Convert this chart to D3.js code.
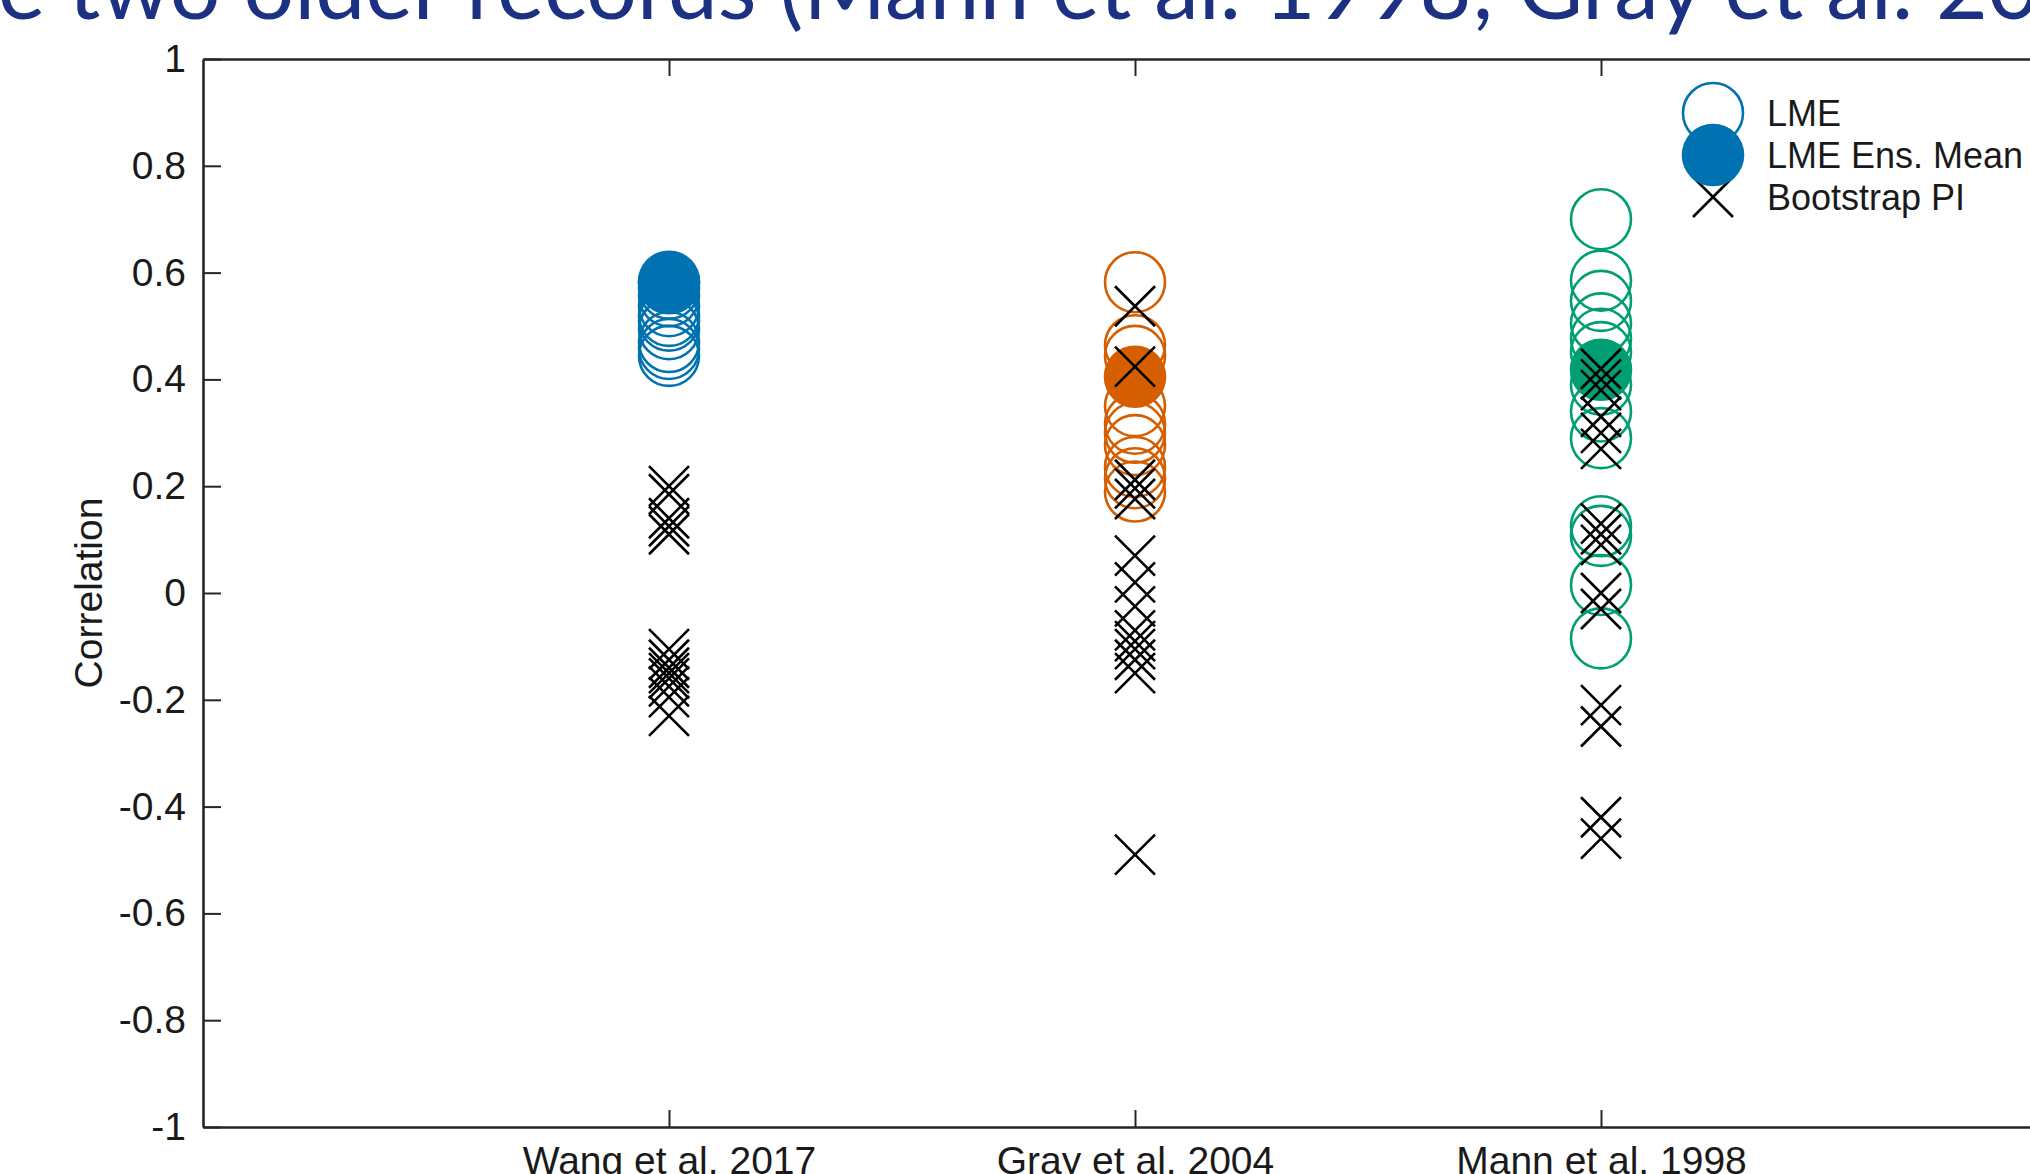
<!DOCTYPE html>
<html>
<head>
<meta charset="utf-8">
<script src="https://cdn.jsdelivr.net/npm/d3@7"></script>
<style>
  html, body { margin: 0; padding: 0; background: #fff; overflow: hidden; }
  svg { display: block; }
</style>
</head>
<body>
<svg id="chart" width="2030" height="1174"></svg>
<script>
// Proxy records compared against the LME ensemble
const categories = ["Wang et al. 2017", "Gray et al. 2004", "Mann et al. 1998"];
const seriesColors = ["#0072B2", "#D55E00", "#009E73"];

// Correlation of each LME member with the record
const lmeWang = [0.58, 0.57, 0.556, 0.537, 0.519, 0.51, 0.494, 0.47, 0.457, 0.444];
const lmeGray = [0.582, 0.464, 0.444, 0.35, 0.317, 0.30, 0.277, 0.236, 0.215, 0.19];
const lmeMann = [0.70, 0.585, 0.547, 0.505, 0.476, 0.451, 0.39, 0.34, 0.29, 0.125, 0.107, 0.015, -0.085];

// Correlation of the ensemble mean with the record
const lmeEnsMean = [0.583, 0.405, 0.418];

// Bootstrap correlations from the preindustrial control run
const piWang = [0.20, 0.185, 0.14, 0.125, 0.11, -0.105, -0.125, -0.14, -0.15, -0.16, -0.175, -0.195, -0.23];
const piGray = [0.537, 0.424, 0.212, 0.196, 0.176, 0.07, 0.02, -0.025, -0.07, -0.09, -0.105, -0.125, -0.15, -0.49];
const piMann = [0.42, 0.40, 0.38, 0.33, 0.30, 0.27, 0.13, 0.11, 0.09, 0.0, -0.03, -0.21, -0.25, -0.42, -0.46];

const yTicks = [-1, -0.8, -0.6, -0.4, -0.2, 0, 0.2, 0.4, 0.6, 0.8, 1];
const legendLabels = ["LME", "LME Ens. Mean", "Bootstrap PI"];
const yLabel = "Correlation";
const headingText = "e two older records (Mann et al. 1998; Gray et al. 20";

const lmeMembers = [lmeWang, lmeGray, lmeMann];
const bootstrapPI = [piWang, piGray, piMann];

const svg = d3.select("#chart");
const FONT = "'Liberation Sans', Arial, Helvetica, sans-serif";
const AXIS_COLOR = "#262626";
const TEXT_COLOR = "#1a1a1a";

// Scales: categories sit at 1, 2, 3 on a 0..4 axis
const x = d3.scaleLinear().domain([0, 4]).range([203, 2067]);
const y = d3.scaleLinear().domain([-1, 1]).range([1127, 59]);

const R = 30;    // circle marker radius
const XH = 20;   // half size of the cross marker

// Slide heading, cut off at the top and right edges
const heading = svg.append("text")
  .attr("x", 0).attr("y", 19)
  .attr("fill", "#1d3182")
  .style("font-family", "Lato, 'Open Sans', sans-serif")
  .style("font-size", "80px")
  .text(headingText);
{
  const node = heading.node();
  const last = headingText.length - 1;
  const a = node.getStartPositionOfChar(0).x;
  const b = node.getEndPositionOfChar(last).x;
  const fs = 80 * (2040 - (-2)) / (b - a);
  heading.style("font-size", fs + "px");
  const a2 = node.getStartPositionOfChar(0).x;
  heading.attr("x", -2 - a2);
}

// Axes
const gLeft = svg.append("g").attr("transform", `translate(${x(0)},0)`)
  .call(d3.axisLeft(y).tickValues(yTicks)
    .tickFormat(d => String(d))
    .tickSizeInner(-18).tickSizeOuter(0).tickPadding(17));

const gTop = svg.append("g").attr("transform", `translate(0,${y(1)})`)
  .call(d3.axisTop(x).tickValues([1, 2, 3]).tickFormat("")
    .tickSizeInner(-17).tickSizeOuter(0));

const gBottom = svg.append("g").attr("transform", `translate(0,${y(-1)})`)
  .call(d3.axisBottom(x).tickValues([1, 2, 3])
    .tickFormat(i => categories[i - 1])
    .tickSizeInner(-17).tickSizeOuter(0).tickPadding(19));

[gLeft, gTop, gBottom].forEach(g => {
  g.select(".domain").attr("stroke", AXIS_COLOR).attr("stroke-width", 2.6);
  g.selectAll(".tick line").attr("stroke", AXIS_COLOR).attr("stroke-width", 2);
  g.selectAll(".tick text").attr("fill", TEXT_COLOR)
    .style("font-family", FONT).style("font-size", "39px");
});

// Y axis title
svg.append("text")
  .attr("transform", `translate(102,${y(0)}) rotate(-90)`)
  .attr("text-anchor", "middle")
  .attr("fill", TEXT_COLOR)
  .style("font-family", FONT).style("font-size", "39px")
  .text(yLabel);

const crossPath = `M${-XH},${-XH}L${XH},${XH}M${-XH},${XH}L${XH},${-XH}`;

// Markers for each record: members, ensemble mean, bootstrap crosses
categories.forEach((cat, ci) => {
  const g = svg.append("g");
  const cx = x(ci + 1);
  g.selectAll("circle.member").data(lmeMembers[ci]).join("circle")
    .attr("class", "member")
    .attr("cx", cx).attr("cy", d => y(d)).attr("r", R)
    .attr("fill", "none").attr("stroke", seriesColors[ci]).attr("stroke-width", 2.6);
  g.append("circle")
    .attr("cx", cx).attr("cy", y(lmeEnsMean[ci])).attr("r", R + 1.3)
    .attr("fill", seriesColors[ci]);
  g.selectAll("path.pi").data(bootstrapPI[ci]).join("path")
    .attr("class", "pi")
    .attr("transform", d => `translate(${cx},${y(d)})`)
    .attr("d", crossPath)
    .attr("fill", "none").attr("stroke", "#000").attr("stroke-width", 2.6);
});

// Legend
const lg = svg.append("g");
const lx = 1713, ly = [113, 155, 197];
lg.append("path").attr("transform", `translate(${lx},${ly[2]})`)
  .attr("d", crossPath).attr("fill", "none").attr("stroke", "#000").attr("stroke-width", 2.6);
lg.append("circle").attr("cx", lx).attr("cy", ly[0]).attr("r", R)
  .attr("fill", "none").attr("stroke", seriesColors[0]).attr("stroke-width", 2.6);
lg.append("circle").attr("cx", lx).attr("cy", ly[1]).attr("r", R + 1.3)
  .attr("fill", seriesColors[0]);
legendLabels.forEach((t, i) => {
  lg.append("text")
    .attr("x", 1767).attr("y", ly[i])
    .attr("dy", "0.36em")
    .attr("fill", TEXT_COLOR)
    .style("font-family", FONT).style("font-size", "36px")
    .text(t);
});
</script>
</body>
</html>
